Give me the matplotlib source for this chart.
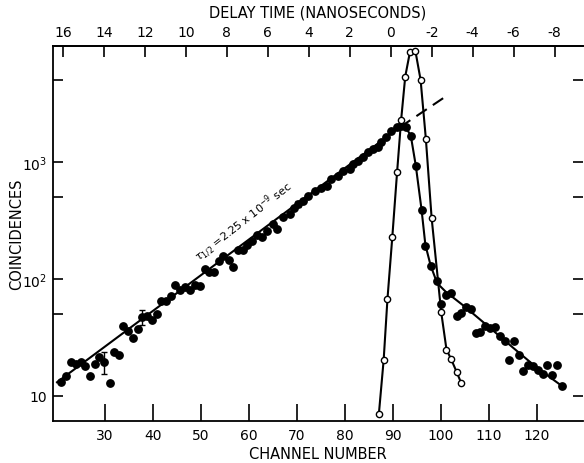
import numpy as np
import matplotlib
matplotlib.use("Agg")
import matplotlib.pyplot as plt
from matplotlib.ticker import FixedLocator, NullFormatter

# delayed coincidence spectrum (filled points)
chan_filled = [20.8, 21.9, 22.9, 24.0, 25.0, 25.9, 26.9, 27.9, 28.8, 29.9,
               31.0, 31.9, 32.9, 33.8, 34.9, 35.8, 36.8, 37.8, 38.8, 39.9,
               40.8, 41.7, 42.8, 43.8, 44.7, 45.7, 46.7, 47.8, 48.8, 49.8,
               50.8, 51.7, 52.8, 53.75, 54.7, 55.8, 56.7, 57.7, 58.7, 59.7,
               60.7, 61.7, 62.7, 63.7, 65.1, 65.9, 67.1, 68.5, 69.4, 70.3,
               71.3, 72.4, 73.75, 75.1, 76.2, 77.2, 78.6, 79.65, 81.0, 81.7,
               82.8, 83.8, 84.85, 85.9, 86.9, 87.6, 88.65, 89.7, 90.8, 91.8,
               92.8, 93.75, 94.8, 96.0, 96.8, 97.9, 99.25, 100.1, 101.0, 102.1,
               103.3, 104.3, 105.3, 106.25, 107.3, 108.2, 109.2, 110.2, 111.25, 112.3,
               113.3, 114.2, 115.3, 116.25, 117.2, 118.2, 119.2, 120.2, 121.25, 122.2,
               123.25, 124.2, 125.35]
counts_filled = [13.1, 14.9, 19.6, 18.8, 19.6, 17.9, 14.9, 18.6, 21.7, 19.4,
                 12.9, 23.6, 22.5, 39.6, 36.1, 31.5, 37.4, 47.0, 48, 44.7,
                 50.5, 64.4, 65.3, 72, 89, 81, 85, 80.5, 89, 87.7,
                 122, 115, 115, 142, 156, 145, 127, 178, 178, 196,
                 212, 239, 226, 255, 295, 268, 336, 359, 400, 437,
                 467, 508, 568, 595, 617, 716, 754, 843, 872, 962,
                 1026, 1096, 1209, 1291, 1335, 1473, 1625, 1853, 1980, 2020,
                 1980, 1680, 929, 391, 190, 130, 96, 61, 73, 76,
                 48.5, 50.8, 58, 55.5, 34.4, 35.5, 39.9, 38, 39, 32.3,
                 29.7, 20.3, 29.3, 22.5, 16.3, 18.4, 18.2, 16.7, 15.4, 18.4,
                 15.2, 18.4, 12.1]

# prompt curve (open points)
chan_open = [87.1, 88.1, 88.9, 89.9, 90.9, 91.75, 92.6, 93.6, 94.7, 95.8,
             96.9, 98.1, 100.1, 101.2, 102.15, 103.3, 104.3]
counts_open = [7.0, 20.3, 68, 227, 817, 2300, 5360, 8770, 8940, 5020,
               1570, 332, 51.9, 24.9, 20.7, 16.1, 12.8]

# error bars
err_chan = [29.9, 37.8, 70.3]
err_val = [19.4, 47.0, 437]
err_lo = [15.5, 40.0, 410]
err_hi = [23.8, 54.5, 465]

# exponential fit (solid) and its extrapolation (dashed)
fit_chan = [20.0, 91.5]
fit_counts = [13.1, 1980]
ext_chan = [91.5, 100.5]
ext_counts = [1980, 3500]

# smooth curve through delayed spectrum after the peak
curve_chan = [90.5, 91.5, 92.5, 93.75, 94.8, 96.0, 96.8, 97.9, 99.25, 101, 105, 110, 115, 120, 125.35]
curve_counts = [1980, 2060, 2030, 1680, 929, 391, 195, 130, 92, 78, 58, 39, 26, 17.5, 12.1]

chan_ticks = [30, 40, 50, 60, 70, 80, 90, 100, 110, 120]
ns_ticks = [16, 14, 12, 10, 8, 6, 4, 2, 0, -2, -4, -6, -8]

CH_ZERO = 89.58
CH_PER_NS = 4.27


def ch2ns(c):
    return (CH_ZERO - np.asarray(c)) / CH_PER_NS


def ns2ch(t):
    return CH_ZERO - np.asarray(t) * CH_PER_NS


fig = plt.figure(figsize=(5.84, 4.64), dpi=100)
ax = fig.add_axes([0.0908, 0.0905, 0.907, 0.8085])

ax.plot(fit_chan, fit_counts, color='black', lw=1.5)
ax.plot(ext_chan, ext_counts, color='black', lw=1.5, ls=(0, (6, 3.5)))
ax.plot(curve_chan, curve_counts, color='black', lw=1.5)
ax.plot(chan_filled, counts_filled, 'o', color='black', ms=5.3, zorder=3)
ax.plot(chan_open, counts_open, '-o', color='black', lw=1.5, ms=4.5,
        mfc='white', mec='black', mew=1.0, zorder=4)

yerr = [np.array(err_val) - np.array(err_lo), np.array(err_hi) - np.array(err_val)]
ax.errorbar(err_chan, err_val, yerr=yerr, fmt='none', ecolor='black',
            elinewidth=1.0, capsize=2.5, capthick=1.0)

ax.set_yscale('log')
ax.set_xlim(19.17, 129.6)
ax.set_ylim(6.11, 9800)

ax.yaxis.set_major_locator(FixedLocator([10, 100, 1000]))
ax.set_yticklabels(['10', r'10$^2$', r'10$^3$'])
ax.yaxis.set_minor_locator(FixedLocator([5, 50, 500, 5000]))
ax.yaxis.set_minor_formatter(NullFormatter())
ax.set_xticks(chan_ticks)
ax.set_xticklabels([str(c) for c in chan_ticks])

ax.tick_params(axis='x', which='major', direction='in', length=12, width=1.2,
               labelsize=10, pad=5, top=False)
ax.tick_params(axis='y', which='both', direction='in', length=7, width=1.2,
               labelsize=10, left=True, right=True, pad=4)
ax.spines['right'].set_visible(False)
for s in ['left', 'bottom', 'top']:
    ax.spines[s].set_linewidth(1.3)

sec = ax.secondary_xaxis('top', functions=(ch2ns, ns2ch))
sec.set_xticks(ns_ticks)
sec.set_xticklabels([str(t) for t in ns_ticks])
sec.tick_params(direction='in', length=8, width=1.2, labelsize=10, pad=5)
sec.spines['top'].set_linewidth(1.3)
sec.set_xlabel('DELAY TIME (NANOSECONDS)', fontsize=10.5, labelpad=6)

ax.set_xlabel('CHANNEL NUMBER', fontsize=10.5, labelpad=3)
ax.set_ylabel('COINCIDENCES', fontsize=10.5)
ax.yaxis.set_label_coords(-0.055, 0.5)

ax.text(58.9, 313, r'$\tau_{1/2}$ =2.25 x 10$^{-9}$ sec', fontsize=8,
        rotation=38, ha='center', va='center', rotation_mode='anchor')

fig.savefig('out.png', dpi=100)
